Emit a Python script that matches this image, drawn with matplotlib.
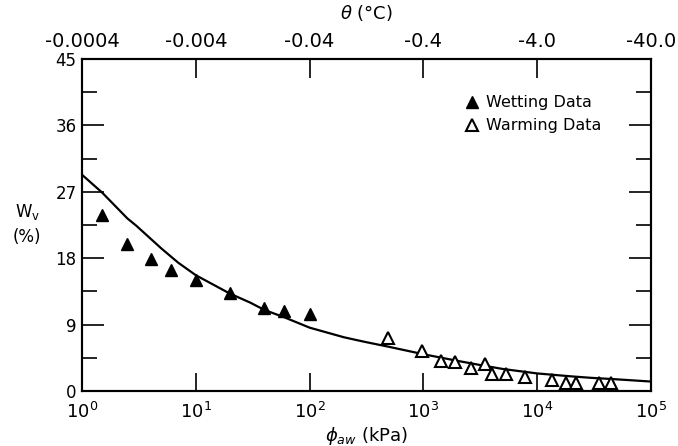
import matplotlib
matplotlib.use("Agg")
import matplotlib.pyplot as plt
from matplotlib.ticker import FixedLocator, NullLocator

# ---- data ----
wet_x = [1.5, 2.5, 4.0, 6.0, 10.0, 20.0, 40.0, 60.0, 100.0]
wet_y = [23.8, 19.9, 17.9, 16.4, 15.1, 13.3, 11.3, 10.8, 10.4]

warm_x = [490, 970, 1430, 1900, 2600, 3500, 4000, 5300, 7900,
          13400, 18000, 22000, 35000, 45000]
warm_y = [7.2, 5.4, 4.1, 3.9, 3.1, 3.7, 2.3, 2.3, 1.9,
          1.5, 1.1, 1.1, 1.1, 1.1]

curve_x = [1, 1.5, 2.5, 3, 5, 7, 10, 20, 30, 40, 60, 100, 200, 300, 500,
           1000, 2000, 3000, 5000, 10000, 20000, 30000, 50000, 100000]
curve_y = [29.3, 26.9, 23.4, 22.4, 19.3, 17.4, 15.7, 13.2, 12.0, 11.0, 10.0,
           8.6, 7.3, 6.7, 6.0, 5.0, 4.1, 3.6, 3.0, 2.4, 2.0, 1.8, 1.6, 1.3]

bottom_ticks = [1, 10, 100, 1000, 10000, 100000]
bottom_labels = [r"$10^0$", r"$10^1$", r"$10^2$", r"$10^3$", r"$10^4$", r"$10^5$"]
top_labels = ["-0.0004", "-0.004", "-0.04", "-0.4", "-4.0", "-40.0"]
y_major = [0, 9, 18, 27, 36, 45]
y_minor = [4.5, 13.5, 22.5, 31.5, 40.5]

fig = plt.figure(figsize=(6.78, 4.46), dpi=100)
ax = fig.add_axes([0.121, 0.123, 0.839, 0.745])

ax.plot(curve_x, curve_y, color="black", lw=1.6, zorder=2)
ax.plot(wet_x, wet_y, ls="none", marker="^", ms=8.5, color="black",
        label="Wetting Data", zorder=3)
ax.plot(warm_x, warm_y, ls="none", marker="^", ms=8.5, mfc="white",
        mec="black", mew=1.5, label="Warming Data", zorder=3)

ax.set_xscale("log")
ax.set_xlim(1, 1e5)
ax.set_ylim(0, 45)

ax.xaxis.set_major_locator(FixedLocator(bottom_ticks))
ax.xaxis.set_minor_locator(NullLocator())
ax.set_xticklabels(bottom_labels, fontsize=13)
ax.yaxis.set_major_locator(FixedLocator(y_major))
ax.yaxis.set_minor_locator(FixedLocator(y_minor))
ax.set_yticklabels([str(v) for v in y_major], fontsize=12)

ax.tick_params(axis="x", which="major", direction="in", length=13, width=1.2, pad=8)
ax.tick_params(axis="y", which="major", direction="in", length=16, width=1.2,
               right=True, pad=4)
ax.tick_params(axis="y", which="minor", direction="in", length=11, width=1.2,
               right=True)
for s in ax.spines.values():
    s.set_linewidth(1.5)

ax2 = ax.twiny()
ax2.set_xscale("log")
ax2.set_xlim(ax.get_xlim())
ax2.xaxis.set_major_locator(FixedLocator(bottom_ticks))
ax2.xaxis.set_minor_locator(NullLocator())
ax2.set_xticklabels(top_labels, fontsize=14)
ax2.tick_params(axis="x", which="major", direction="in", length=14, width=1.2, pad=6)
for s in ax2.spines.values():
    s.set_linewidth(1.5)

ax.set_xlabel(r"$\phi_{aw}$ (kPa)", fontsize=13, labelpad=2)
ax2.set_xlabel(r"$\theta$ (°C)", fontsize=13, labelpad=9)

fig.text(0.04, 0.525, r"W$_\mathregular{v}$", fontsize=12, ha="center", va="center")
fig.text(0.04, 0.468, "(%)", fontsize=12, ha="center", va="center")

ax.legend(loc="upper left", bbox_to_anchor=(0.66, 0.91), frameon=False,
          fontsize=11.5, handletextpad=0.4, labelspacing=0.5,
          handlelength=1.0, borderaxespad=0)

fig.savefig("out.png", dpi=100)
